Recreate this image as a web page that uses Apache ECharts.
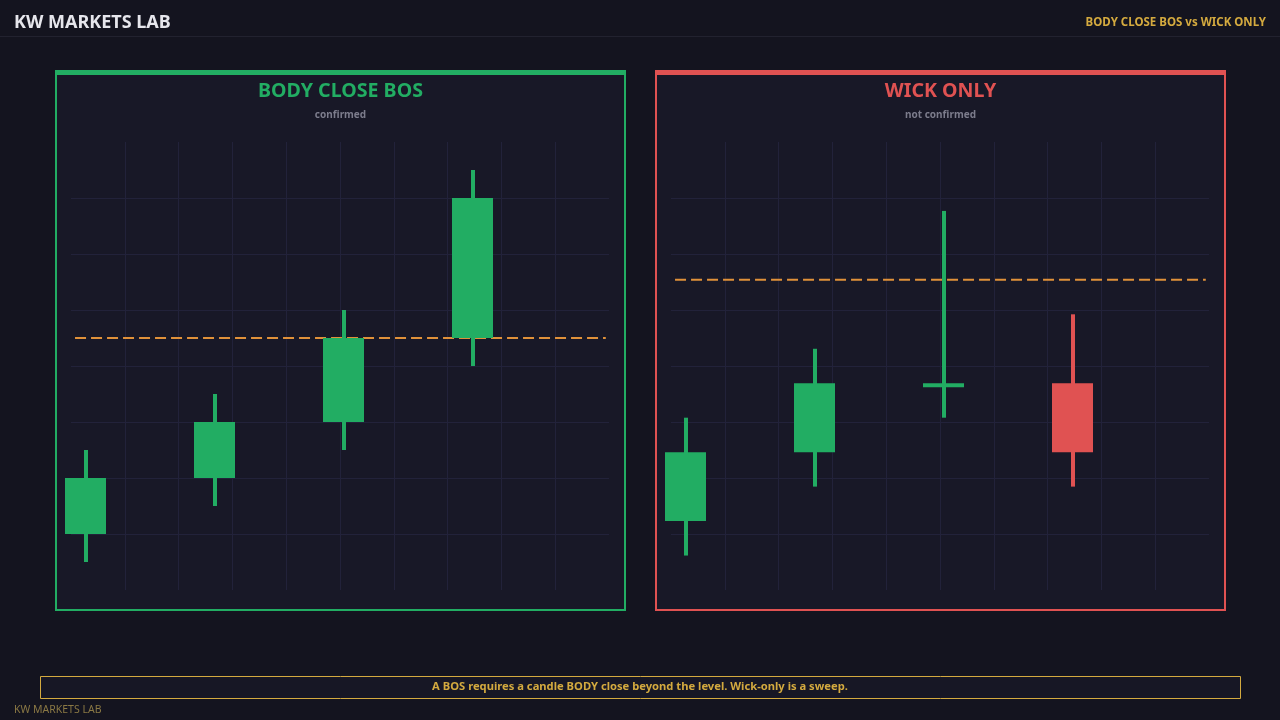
<!DOCTYPE html>
<html>
<head>
<meta charset="utf-8">
<script src="https://cdn.jsdelivr.net/npm/echarts@6/dist/echarts.min.js"></script>
<style>
html,body{margin:0;padding:0;background:#14141f;}
#chart{width:1280px;height:720px;}
</style>
</head>
<body>
<div id="chart"></div>
<script>
// ---- data ----
var candleCategories = ['1', '2', '3', '4'];
// [open, close, low, high]
var bodyCloseCandles = [
  [2, 4, 1, 5],
  [4, 6, 3, 7],
  [6, 9, 5, 10],
  [9, 14, 8, 15]
];
var bodyCloseLevel = 9;
var wickOnlyCandles = [
  [2, 4, 1, 5],
  [4, 6, 3, 7],
  [6, 6, 5, 11],
  [6, 4, 3, 8]
];
var wickOnlyLevel = 9;
var leftRange = [0, 16, 2];
var rightRange = [0, 13, 1.625];
var titles = ['BODY CLOSE BOS', 'WICK ONLY'];
var subtitles = ['confirmed', 'not confirmed'];
var headerTitle = 'KW MARKETS LAB';
var headerRight = 'BODY CLOSE BOS vs WICK ONLY';
var footerNote = 'A BOS requires a candle BODY close beyond the level. Wick-only is a sweep.';
var footerBrand = 'KW MARKETS LAB';

// ---- style ----
var GREEN = '#22ad63', RED = '#e05252', GOLD = '#d4aa3f', ORANGE = '#e0913a';
var GRIDLINE = '#22223a';
var FONT = '"Noto Sans", "Open Sans", sans-serif';

var chart = echarts.init(document.getElementById('chart'));

function panelGraphics(x, color, title, sub) {
  var w = 571;
  return [
    {type: 'rect', shape: {x: x + 1, y: 71, width: w - 2, height: 539}, style: {fill: '#181827', stroke: color, lineWidth: 2}, z: -10},
    {type: 'rect', shape: {x: x, y: 70, width: w, height: 5}, style: {fill: color}, z: -9},
    {type: 'text', x: x + w / 2, y: 91.5, style: {text: title, fill: color, font: 'bold 19.6px ' + FONT, textAlign: 'center', textVerticalAlign: 'middle'}},
    {type: 'text', x: x + w / 2, y: 115.5, style: {text: sub, fill: '#7c7c8c', font: 'bold 10px ' + FONT, textAlign: 'center', textVerticalAlign: 'middle'}}
  ];
}

function gridAxisX(gi) {
  return {gridIndex: gi, type: 'value', min: 0, max: 10, interval: 1,
    axisLine: {show: false}, axisTick: {show: false}, axisLabel: {show: false},
    splitLine: {show: true, showMinLine: false, showMaxLine: false, lineStyle: {color: GRIDLINE, width: 1}}};
}
function gridAxisY(gi, r) {
  return {gridIndex: gi, type: 'value', min: r[0], max: r[1], interval: r[2],
    axisLine: {show: false}, axisTick: {show: false}, axisLabel: {show: false},
    splitLine: {show: true, showMinLine: false, showMaxLine: false, lineStyle: {color: GRIDLINE, width: 1}}};
}
function candleAxisX(gi) {
  return {gridIndex: gi, type: 'category', data: candleCategories, boundaryGap: true, show: false};
}
function candleAxisY(gi, r) {
  return {gridIndex: gi, type: 'value', min: r[0], max: r[1], show: false, splitLine: {show: false}};
}
function renderCandle(params, api) {
  var idx = api.value(0);
  var open = api.value(1), close = api.value(2), low = api.value(3), high = api.value(4);
  var cx = api.coord([idx, open])[0];
  var yo = api.coord([idx, open])[1], yc = api.coord([idx, close])[1];
  var yl = api.coord([idx, low])[1], yh = api.coord([idx, high])[1];
  var color = close >= open ? GREEN : RED;
  var top = Math.min(yo, yc), h = Math.max(Math.abs(yo - yc), 4);
  return {type: 'group', children: [
    {type: 'rect', shape: {x: cx - 1.5, y: yh, width: 4, height: yl - yh}, style: {fill: color}},
    {type: 'rect', shape: {x: cx - 20.5, y: top, width: 41, height: h}, style: {fill: color}}
  ]};
}
function candleSeries(idx, data) {
  return {type: 'custom', xAxisIndex: idx, yAxisIndex: idx,
    data: data.map(function (c, i) { return [i].concat(c); }),
    encode: {x: 0, y: [1, 2, 3, 4]},
    renderItem: renderCandle, silent: true, animation: false, z: 10};
}
function levelSeries(idx, level) {
  return {type: 'line', xAxisIndex: idx, yAxisIndex: idx, data: [[0.075, level], [9.94, level]],
    symbol: 'none', lineStyle: {color: ORANGE, width: 2, type: [11, 5]}, animation: false, z: 5, silent: true};
}

var option = {
  backgroundColor: '#14141f',
  animation: false,
  grid: [
    {left: 71, top: 142, width: 538, height: 448},
    {left: 21, top: 142, width: 516, height: 448},
    {left: 671, top: 142, width: 538, height: 448},
    {left: 621, top: 142, width: 516, height: 448}
  ],
  xAxis: [gridAxisX(0), candleAxisX(1), gridAxisX(2), candleAxisX(3)],
  yAxis: [gridAxisY(0, leftRange), candleAxisY(1, leftRange), gridAxisY(2, rightRange), candleAxisY(3, rightRange)],
  series: [
    levelSeries(0, bodyCloseLevel),
    candleSeries(1, bodyCloseCandles),
    levelSeries(2, wickOnlyLevel),
    candleSeries(3, wickOnlyCandles)
  ],
  graphic: [].concat(
    [
      {type: 'text', x: 14, y: 23, style: {text: headerTitle, fill: '#e6e6ec', font: 'bold 18px ' + FONT, textVerticalAlign: 'middle'}},
      {type: 'text', x: 1266, y: 22.5, style: {text: headerRight, fill: GOLD, font: 'bold 11.5px ' + FONT, textAlign: 'right', textVerticalAlign: 'middle'}},
      {type: 'rect', shape: {x: 0, y: 36, width: 1280, height: 1}, style: {fill: '#22222f'}}
    ],
    panelGraphics(55, GREEN, titles[0], subtitles[0]),
    panelGraphics(655, RED, titles[1], subtitles[1]),
    [
      {type: 'rect', shape: {x: 40.5, y: 676.5, width: 1200, height: 22}, style: {fill: '#171725', stroke: GOLD, lineWidth: 1}},
      {type: 'text', x: 640, y: 687, style: {text: footerNote, fill: GOLD, font: 'bold 11.2px ' + FONT, textAlign: 'center', textVerticalAlign: 'middle'}},
      {type: 'text', x: 14, y: 710.5, style: {text: footerBrand, fill: '#8a7844', font: '10.5px ' + FONT, textVerticalAlign: 'middle'}}
    ]
  )
};
chart.setOption(option);
</script>
</body>
</html>
